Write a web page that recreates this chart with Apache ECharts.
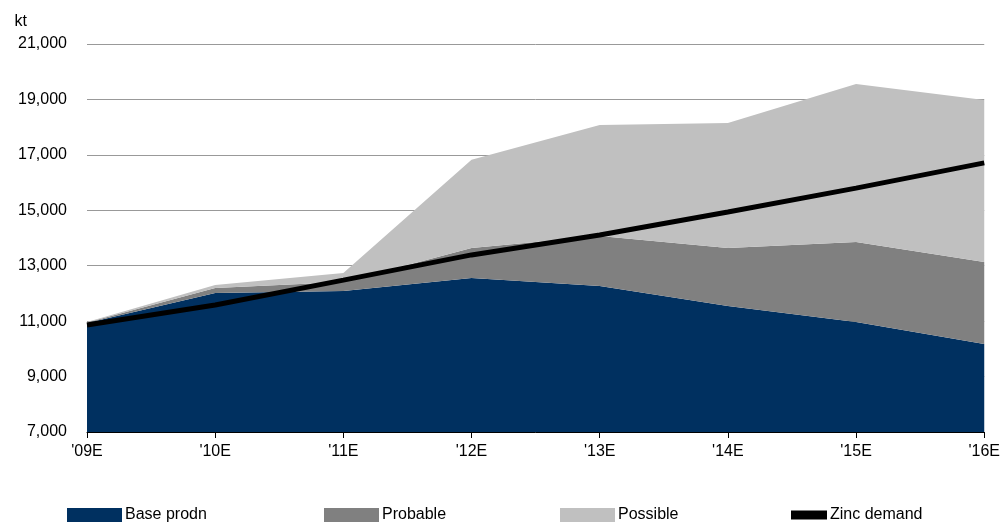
<!DOCTYPE html>
<html>
<head>
<meta charset="UTF-8">
<script src="https://cdn.jsdelivr.net/npm/echarts@6/dist/echarts.min.js"></script>
</head>
<body style="margin:0">
<div id="main" style="width:1003px;height:523px;"></div>
<script>
var years = ["'09E", "'10E", "'11E", "'12E", "'13E", "'14E", "'15E", "'16E"];
var baseProdn = [10930, 12015, 12090, 12560, 12270, 11550, 10970, 10175];
var probable = [20, 185, 320, 1080, 1800, 2090, 2890, 2955];
var possible = [20, 100, 330, 3180, 4010, 4510, 5700, 5850];
var zincDemand = [10860, 11580, 12480, 13390, 14110, 14940, 15800, 16710];

var chart = echarts.init(document.getElementById('main'));
var font = 'Liberation Sans, Arial, sans-serif';
function area(name, data, color) {
    return {
        name: name, type: 'line', stack: 'supply', data: data,
        symbol: 'none', lineStyle: { width: 0 },
        areaStyle: { color: color, opacity: 1 }, itemStyle: { color: color }
    };
}
function leg(name, left, icon, w) {
    return {
        bottom: -5, left: left, itemWidth: w, itemHeight: 14, itemGap: 0,
        textStyle: { fontSize: 16, color: '#000', fontFamily: font, padding: [0, 0, 0, -2] },
        data: [{ name: name, icon: icon }]
    };
}
chart.setOption({
    animation: false,
    textStyle: { fontFamily: font },
    grid: { left: 87, right: 18, top: 44, bottom: 91 },
    legend: [
        leg('Base prodn', 62, 'rect', 55),
        leg('Probable', 319, 'rect', 55),
        leg('Possible', 555, 'rect', 55),
        leg('Zinc demand', 786, 'path://M0,0L10,0L10,2.5L0,2.5Z', 36)
    ],
    xAxis: {
        type: 'category', data: years, boundaryGap: false,
        axisLine: { lineStyle: { color: '#000', width: 1 } },
        axisTick: { show: true, length: 6, lineStyle: { color: '#000' } },
        axisLabel: { color: '#000', fontSize: 16, margin: 12 }
    },
    yAxis: {
        type: 'value', min: 7000, max: 21000, interval: 2000,
        name: 'kt', nameLocation: 'end', nameGap: 14,
        nameTextStyle: { color: '#000', fontSize: 16, align: 'right', padding: [0, 60, 0, 0] },
        axisLine: { show: false }, axisTick: { show: false },
        axisLabel: { color: '#000', fontSize: 16, margin: 20,
            formatter: function (v) { return v.toLocaleString('en-US'); } },
        splitLine: { lineStyle: { color: '#999', width: 1 } }
    },
    series: [
        area('Base prodn', baseProdn, '#003060'),
        area('Probable', probable, '#808080'),
        area('Possible', possible, '#c0c0c0'),
        {
            name: 'Zinc demand', type: 'line', data: zincDemand, symbol: 'none',
            lineStyle: { color: '#000', width: 5 }, itemStyle: { color: '#000' }, z: 5
        }
    ]
});
</script>
</body>
</html>
